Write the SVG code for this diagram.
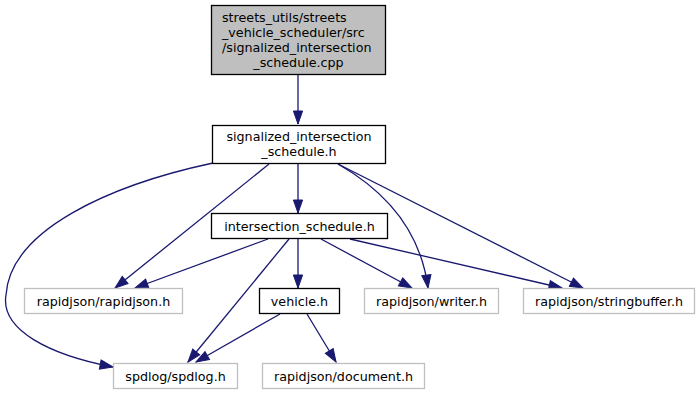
<svg xmlns="http://www.w3.org/2000/svg" width="700" height="395" viewBox="0 0 700 395">
  <style>
    .box { fill: #ffffff; stroke: #000000; stroke-width: 1.3; }
    .ext { fill: #ffffff; stroke: #bfbfbf; stroke-width: 1.3; }
    .root { fill: #bfbfbf; stroke: #000000; stroke-width: 1.3; }
    text { font-family: "DejaVu Sans", "Liberation Sans", sans-serif; font-size: 12.7px; fill: #000000; }
    .c { text-anchor: middle; }
    .edge { fill: none; stroke: #191970; stroke-width: 1.3; marker-end: url(#arrow); }
  </style>
  <defs>
    <marker id="arrow" markerUnits="userSpaceOnUse" markerWidth="16" markerHeight="12" refX="13" refY="0" orient="auto" overflow="visible">
      <path d="M0,-4.6 L13,0 L0,4.6 Z" fill="#191970" stroke="#191970" stroke-width="1"/>
    </marker>
  </defs>
  <rect width="700" height="395" fill="#ffffff"/>

  <g id="edges">
    <path class="edge" d="M298,75 L298,124"/>
    <path class="edge" d="M298,164 L298,213"/>
    <path class="edge" d="M269,164 L115,288"/>
    <path class="edge" d="M213,163 C110,185 10,230 6,295 C0,330 50,355 113,367"/>
    <path class="edge" d="M338,164 C380,188 420,225 428,288"/>
    <path class="edge" d="M338,164 L583,288"/>
    <path class="edge" d="M268,239 L135,288"/>
    <path class="edge" d="M289,239 L188,362"/>
    <path class="edge" d="M298,239 L298,288"/>
    <path class="edge" d="M321,239 L412,288"/>
    <path class="edge" d="M350,239 L562,288"/>
    <path class="edge" d="M280,314 L196,362"/>
    <path class="edge" d="M307,314 L336,362"/>
  </g>

  <g id="node-cpp">
    <rect class="root" x="211.5" y="5.5" width="174" height="69"/>
    <text x="222" y="22">streets_utils/streets</text>
    <text x="222" y="37">_vehicle_scheduler/src</text>
    <text x="222" y="52">/signalized_intersection</text>
    <text class="c" x="298.5" y="67">_schedule.cpp</text>
  </g>

  <g id="node-signalized">
    <rect class="box" x="212.5" y="125.5" width="173" height="38"/>
    <text class="c" x="299" y="141">signalized_intersection</text>
    <text class="c" x="299" y="156">_schedule.h</text>
  </g>

  <g id="node-intersection">
    <rect class="box" x="211.5" y="213.5" width="176" height="25"/>
    <text class="c" x="299.5" y="230.5">intersection_schedule.h</text>
  </g>

  <g id="node-rapidjson">
    <rect class="ext" x="24.5" y="288.5" width="158" height="25"/>
    <text class="c" x="103.5" y="305.5">rapidjson/rapidjson.h</text>
  </g>

  <g id="node-vehicle">
    <rect class="box" x="259.5" y="288.5" width="80" height="25"/>
    <text class="c" x="299.5" y="305.5">vehicle.h</text>
  </g>

  <g id="node-writer">
    <rect class="ext" x="364.5" y="288.5" width="134" height="25"/>
    <text class="c" x="431.5" y="305.5">rapidjson/writer.h</text>
  </g>

  <g id="node-stringbuffer">
    <rect class="ext" x="523.5" y="288.5" width="171" height="25"/>
    <text class="c" x="609" y="305.5">rapidjson/stringbuffer.h</text>
  </g>

  <g id="node-spdlog">
    <rect class="ext" x="113.5" y="363.5" width="124" height="25"/>
    <text class="c" x="175.5" y="380.5">spdlog/spdlog.h</text>
  </g>

  <g id="node-document">
    <rect class="ext" x="262.5" y="363.5" width="162" height="25"/>
    <text class="c" x="343.5" y="380.5">rapidjson/document.h</text>
  </g>
</svg>
